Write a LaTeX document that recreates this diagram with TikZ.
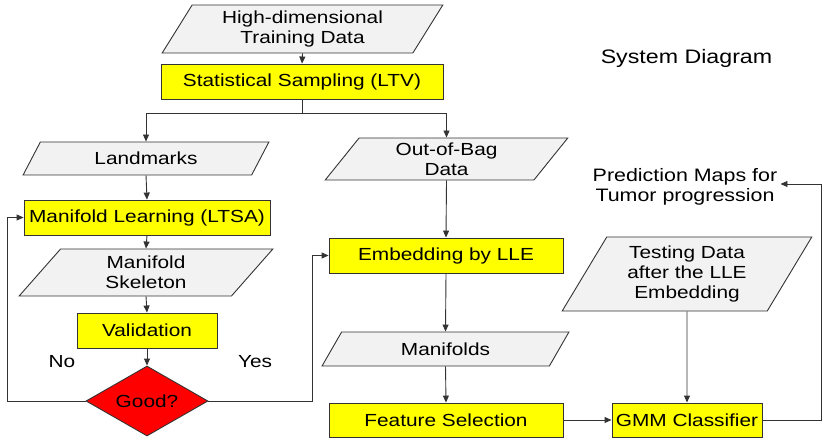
\documentclass[tikz,border=0pt]{standalone}
\usepackage{fontspec}
\setmainfont{Liberation Sans}[FakeStretch=1.19]
\usetikzlibrary{shapes.geometric,arrows.meta}
\definecolor{lgray}{HTML}{F2F2F2}
\definecolor{ylw}{HTML}{FFFF00}
\definecolor{rd}{HTML}{FF0000}
\definecolor{edge}{HTML}{333333}
\tikzset{
  base/.style={font=\fontsize{17.5}{20}\selectfont, align=center, inner sep=1pt, text=black},
  procbox/.style={base, draw=edge, line width=0.9pt, fill=ylw, rectangle},
  databox/.style={base, draw=edge, line width=0.9pt, fill=lgray, trapezium,
    trapezium left angle=60, trapezium right angle=120, trapezium stretches=true},
  decide/.style={base, draw=edge, line width=0.9pt, fill=rd, diamond, inner sep=0pt},
  lbl/.style={base},
  arr/.style={draw=edge, line width=0.9pt, -{Triangle[length=7pt,width=6pt]}},
  ln/.style={draw=edge, line width=0.9pt}
}
\begin{document}
\begin{tikzpicture}[x=1pt,y=-1pt]
\useasboundingbox (0,0) rectangle (823,441);
% data (parallelograms)
\node[databox, minimum width=281pt, minimum height=48pt] (high) at (302.5,29) {High-dimensional\\Training Data};
\node[databox, minimum width=246pt, minimum height=33pt] (land) at (146,158.5) {Landmarks};
\node[databox, minimum width=254pt, minimum height=47pt] (skel) at (146,272.5) {Manifold\\Skeleton};
\node[databox, minimum width=243pt, minimum height=42pt] (oob) at (446.5,159) {Out-of-Bag\\Data};
\node[databox, minimum width=247pt, minimum height=34pt] (mani) at (445.5,349) {Manifolds};
\node[databox, minimum width=250pt, minimum height=74pt] (test) at (687,274) {Testing Data\\after the LLE\\Embedding};
% process boxes
\node[procbox, minimum width=282pt, minimum height=35pt] (stat) at (302,81.5) {Statistical Sampling (LTV)};
\node[procbox, minimum width=246pt, minimum height=35pt] (ml) at (147,217.5) {Manifold Learning (LTSA)};
\node[procbox, minimum width=140pt, minimum height=35pt] (val) at (147,330.5) {Validation};
\node[procbox, minimum width=234pt, minimum height=35pt] (emb) at (446,255.5) {Embedding by LLE};
\node[procbox, minimum width=234pt, minimum height=34pt] (feat) at (446,420) {Feature Selection};
\node[procbox, minimum width=150pt, minimum height=34pt] (gmm) at (687,420) {GMM Classifier};
% decision
\node[decide, minimum width=122pt, minimum height=70pt, aspect=1.74] (good) at (147,401) {Good?};
% labels
\node[lbl] (no) at (62,362) {No};
\node[lbl] (yes) at (255,362) {Yes};
\node[lbl, font=\fontsize{19.5}{22}\selectfont] (title) at (686.5,58) {System Diagram};
\node[lbl, inner sep=3pt, font=\fontsize{18}{20}\selectfont] (pred) at (685,187) {Prediction Maps for\\Tumor progression};
% helper coordinates
\coordinate (split) at (302,113);
\coordinate (lx) at (7,0);
\coordinate (rx) at (312,0);
\coordinate (fx) at (821,0);
% connectors
\draw[arr] (high.south) -- (stat.north);
\draw[ln] (stat.south) -- (split);
\draw[arr] (split) -| (land.north);
\draw[arr] (split) -| (oob.north);
\draw[arr] (land.south) -- (ml.north);
\draw[arr] (ml.south) -- (skel.north);
\draw[arr] (skel.south) -- (val.north);
\draw[arr] (val.south) -- (good.north);
\draw[arr] (good.west) -- (good.west -| lx) |- (ml.west);
\draw[arr] (good.east) -- (good.east -| rx) |- (emb.west);
\draw[arr] (oob.south) -- (emb.north);
\draw[arr] (emb.south) -- (mani.north);
\draw[arr] (mani.south) -- (feat.north);
\draw[arr] (feat.east) -- (gmm.west);
\draw[arr] (test.south) -- (gmm.north);
\draw[arr] (gmm.east) -- (gmm.east -| fx) |- ([yshift=3pt]pred.east);
\end{tikzpicture}
\end{document}
